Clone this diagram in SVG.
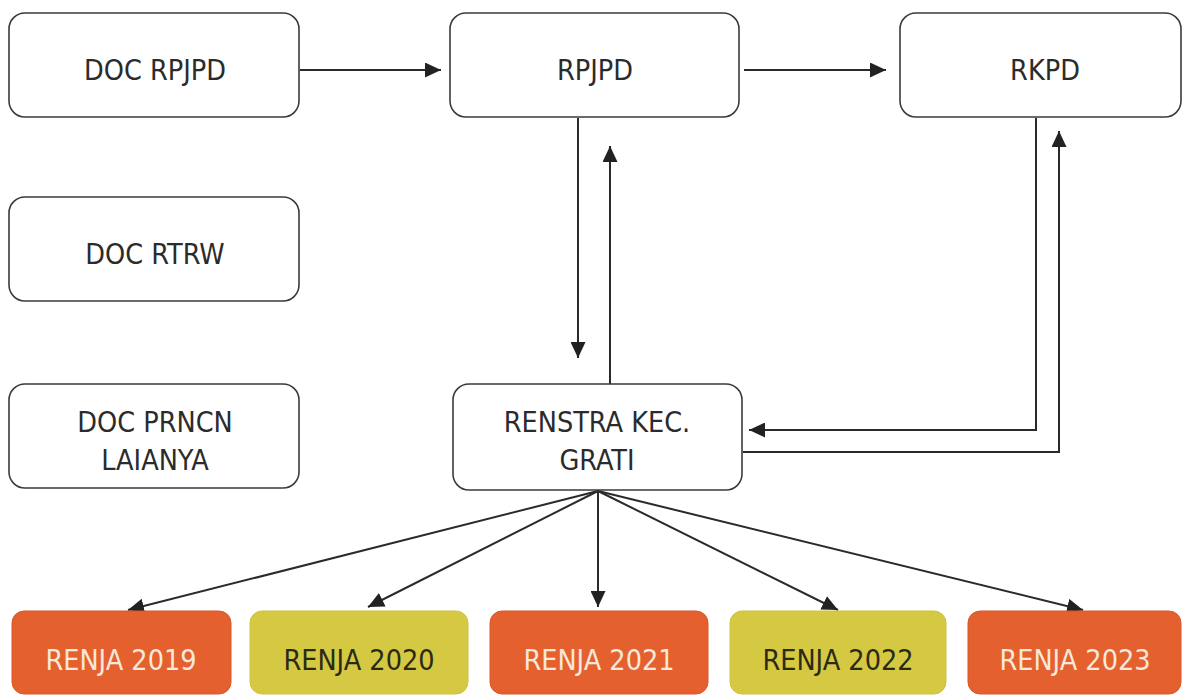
<svg xmlns="http://www.w3.org/2000/svg" width="1183" height="695" viewBox="0 0 1183 695">
<style>
.box{fill:#ffffff;stroke:#3a3a3a;stroke-width:1.6}
.txt,.tor,.tye{font-family:"DejaVu Sans Condensed","DejaVu Sans",Verdana,sans-serif;font-stretch:condensed;font-size:28.5px;text-anchor:middle}
.txt{fill:#2b2b2b}
.or{fill:#E5602F;stroke:#d9572a;stroke-width:1}
.ye{fill:#D5C843;stroke:#cfc23f;stroke-width:1}
.tor{fill:#F6E8DA}
.tye{fill:#2b2b14}
.ln{fill:none;stroke:#2a2a2a;stroke-width:2;marker-end:url(#ah)}
</style>
<defs>
<marker id="ah" markerUnits="userSpaceOnUse" markerWidth="17" markerHeight="15" refX="16" refY="7.5" orient="auto">
<path d="M0,0 L16,7.5 L0,15 z" fill="#222"/>
</marker>
</defs>
<rect width="1183" height="695" fill="#ffffff"/>
<g id="connectors">
<line class="ln" x1="300" y1="70" x2="441" y2="70"/>
<line class="ln" x1="744" y1="70" x2="886" y2="70"/>
<line class="ln" x1="578" y1="118" x2="578" y2="358"/>
<line class="ln" x1="610" y1="384" x2="610" y2="146"/>
<polyline class="ln" points="1036,118 1036,430 749,430"/>
<polyline class="ln" points="743,452 1059,452 1059,131"/>
<line class="ln" x1="598" y1="491" x2="128" y2="610"/>
<line class="ln" x1="598" y1="491" x2="368" y2="607"/>
<line class="ln" x1="598" y1="491" x2="598" y2="607"/>
<line class="ln" x1="598" y1="491" x2="838" y2="610"/>
<line class="ln" x1="598" y1="491" x2="1083" y2="610"/>
</g>
<g id="doc-rpjpd"><rect class="box" x="9" y="13" width="290" height="104" rx="16"/><text class="txt" x="155" y="80">DOC RPJPD</text></g>
<g id="rpjpd"><rect class="box" x="450" y="13" width="289" height="104" rx="16"/><text class="txt" x="595" y="80">RPJPD</text></g>
<g id="rkpd"><rect class="box" x="900" y="13" width="281" height="104" rx="16"/><text class="txt" x="1045" y="80">RKPD</text></g>
<g id="doc-rtrw"><rect class="box" x="9" y="197" width="290" height="104" rx="16"/><text class="txt" x="155" y="264">DOC RTRW</text></g>
<g id="doc-prncn"><rect class="box" x="9" y="384" width="290" height="104" rx="16"/><text class="txt" x="155" y="432">DOC PRNCN</text><text class="txt" x="155" y="470">LAIANYA</text></g>
<g id="renstra"><rect class="box" x="453" y="384" width="289" height="106" rx="16"/><text class="txt" x="597" y="432">RENSTRA KEC.</text><text class="txt" x="597" y="470">GRATI</text></g>
<g id="renja-2019"><rect class="or" x="12" y="611" width="219" height="83" rx="12"/><text class="tor" x="121" y="670">RENJA 2019</text></g>
<g id="renja-2020"><rect class="ye" x="250" y="611" width="218" height="83" rx="12"/><text class="tye" x="359" y="670">RENJA 2020</text></g>
<g id="renja-2021"><rect class="or" x="490" y="611" width="218" height="83" rx="12"/><text class="tor" x="599" y="670">RENJA 2021</text></g>
<g id="renja-2022"><rect class="ye" x="730" y="611" width="216" height="83" rx="12"/><text class="tye" x="838" y="670">RENJA 2022</text></g>
<g id="renja-2023"><rect class="or" x="968" y="611" width="213" height="83" rx="12"/><text class="tor" x="1075" y="670">RENJA 2023</text></g>
</svg>
